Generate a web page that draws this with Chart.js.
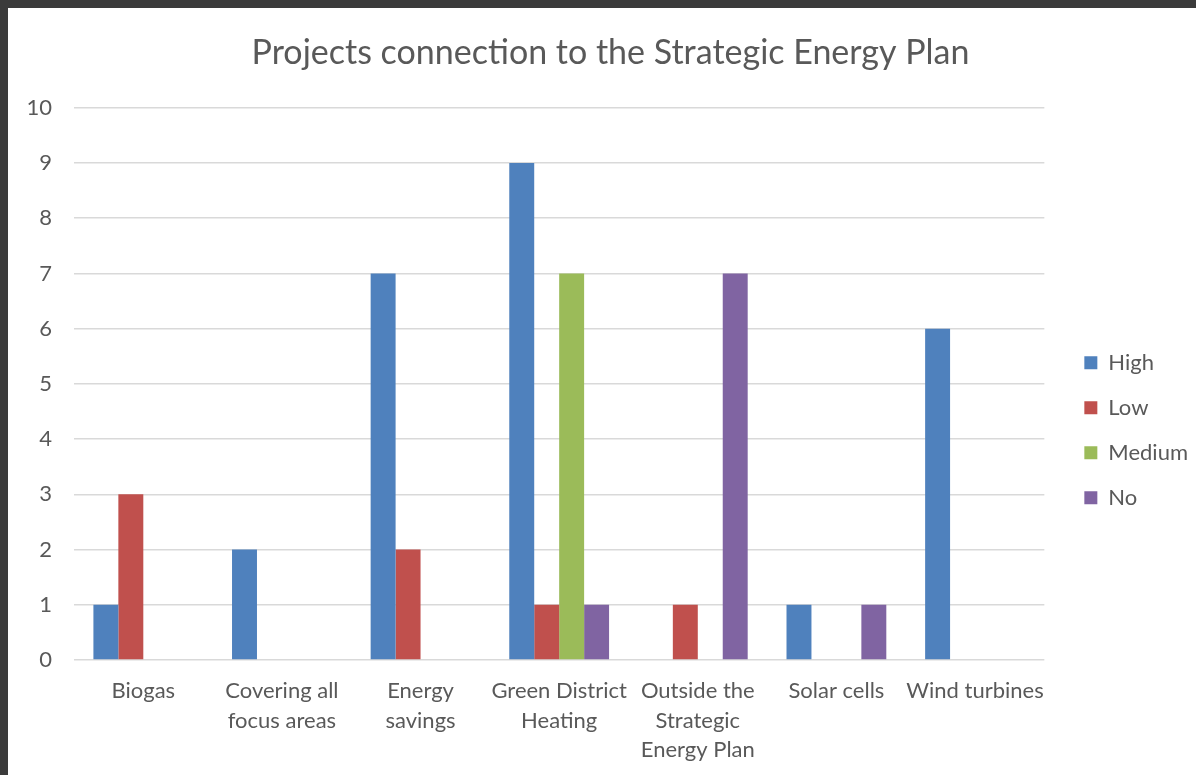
<!DOCTYPE html>
<html>
<head>
<meta charset="utf-8">
<script src="https://cdn.jsdelivr.net/npm/chart.js@4.4.1/dist/chart.umd.min.js"></script>
<style>
  html, body { margin: 0; padding: 0; background: #3b3b3b; }
  #frame { position: absolute; left: 8px; top: 8px; width: 1188px; height: 767px; background: #ffffff; }
</style>
</head>
<body>
<div id="frame"><canvas id="barChart" width="1188" height="767"></canvas></div>
<script>
const categories = [
  'Biogas',
  ['Covering all', 'focus areas'],
  ['Energy', 'savings'],
  ['Green District', 'Heating'],
  ['Outside the', 'Strategic', 'Energy Plan'],
  'Solar cells',
  'Wind turbines'
];
const highValues = [1, 2, 7, 9, 0, 1, 6];
const lowValues = [3, 0, 2, 1, 1, 0, 0];
const mediumValues = [0, 0, 0, 7, 0, 0, 0];
const noValues = [0, 0, 0, 1, 7, 1, 0];
const yTicks = [0, 1, 2, 3, 4, 5, 6, 7, 8, 9, 10];

// Excel puts the title and legend a bit differently than Chart.js does, nudge them
const boxNudge = {
  id: 'boxNudge',
  afterLayout(chart) {
    const lg = chart.legend;
    if (lg) {
      lg.left += 17; lg.right += 17;
      lg.top += 10; lg.bottom += 10;
    }
    const tt = chart.titleBlock;
    if (tt) {
      tt.left += 16; tt.right += 16;
    }
  }
};

document.addEventListener('DOMContentLoaded', function () {
  Chart.defaults.font.family = 'Lato, "Noto Sans", sans-serif';
  Chart.defaults.color = '#595959';

  const ctx = document.getElementById('barChart').getContext('2d');
  new Chart(ctx, {
    type: 'bar',
    data: {
      labels: categories,
      datasets: [
        { label: 'High', data: highValues, backgroundColor: '#4f81bd' },
        { label: 'Low', data: lowValues, backgroundColor: '#c0504d' },
        { label: 'Medium', data: mediumValues, backgroundColor: '#9bbb59' },
        { label: 'No', data: noValues, backgroundColor: '#8064a2' }
      ]
    },
    plugins: [boxNudge],
    options: {
      responsive: false,
      animation: false,
      layout: { padding: { left: 0, right: 15, top: 0, bottom: 0 } },
      datasets: { bar: { categoryPercentage: 0.72, barPercentage: 1.0 } },
      plugins: {
        title: {
          display: true,
          text: 'Projects connection to the Strategic Energy Plan',
          font: { size: 34, weight: 'normal', lineHeight: 1.2 },
          color: '#595959',
          padding: { top: 25, bottom: 34 }
        },
        legend: {
          position: 'right',
          // empty legend title, only used to push the items down
          title: { display: true, text: '', font: { size: 12, lineHeight: 1.2 }, padding: { top: 0, bottom: 43 } },
          labels: {
            boxWidth: 13,
            boxHeight: 13,
            padding: 23,
            font: { size: 22 },
            color: '#595959'
          }
        },
        tooltip: { enabled: false }
      },
      scales: {
        x: {
          grid: { display: false, drawTicks: false },
          border: { display: false },
          ticks: {
            maxRotation: 0,
            autoSkip: false,
            padding: 16,
            font: { size: 22, lineHeight: 1.35 },
            color: '#595959'
          },
          afterFit: function (scale) { scale.height = 115; }
        },
        y: {
          min: 0,
          max: 10,
          afterBuildTicks: function (scale) {
            scale.ticks = yTicks.map(v => ({ value: v }));
          },
          grid: { color: '#d9d9d9', lineWidth: 1.5, drawTicks: false },
          border: { display: false },
          ticks: {
            padding: 22,
            font: { size: 22 },
            color: '#595959'
          },
          afterFit: function (scale) { scale.width = 66; }
        }
      }
    }
  });
});
</script>
</body>
</html>
